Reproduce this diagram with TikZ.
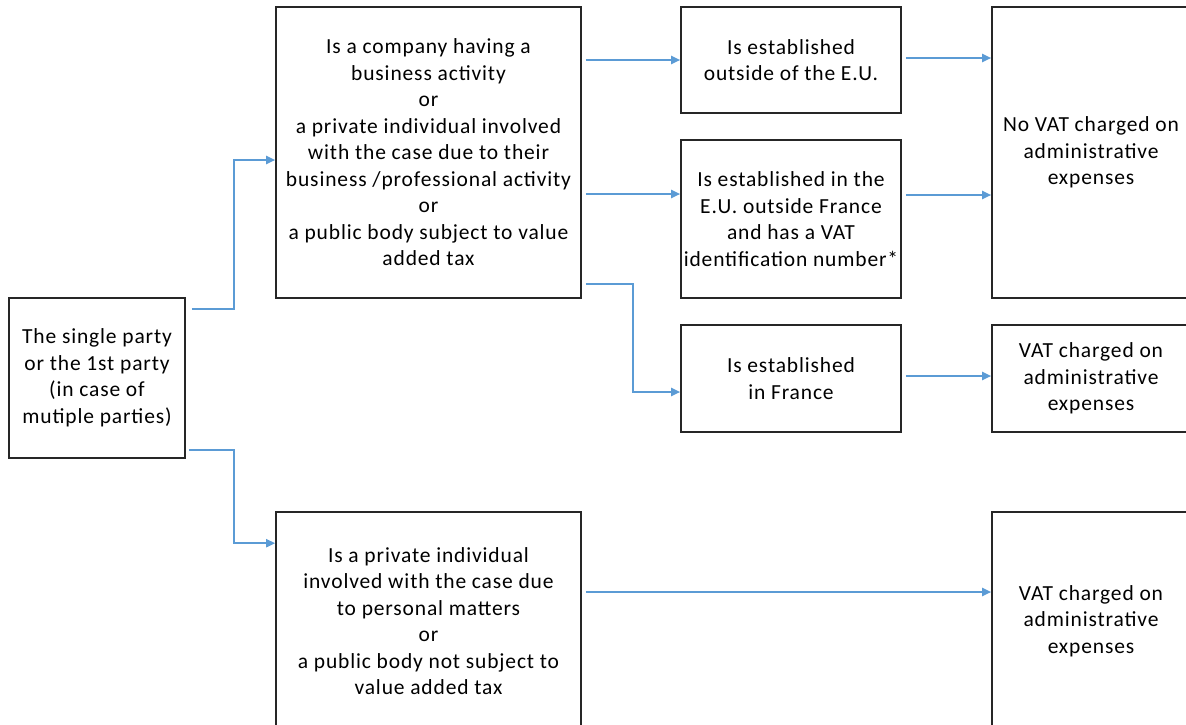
\documentclass[tikz,border=0pt]{standalone}
\usepackage{fontspec}
\setmainfont{Carlito}[LetterSpace=4]
\usetikzlibrary{calc,arrows.meta}
\definecolor{flowblue}{HTML}{5B9BD5}

\tikzset{
  box/.style={draw=black!85, line width=1.6pt, align=center, inner sep=0pt,
    font=\fontsize{21.5}{26.5}\selectfont},
  flow/.style={draw=flowblue, line width=1.9pt, -{Triangle[length=9pt,width=8pt]}}
}

\begin{document}
\begin{tikzpicture}[x=1pt,y=-1pt]
  \useasboundingbox (0,0) rectangle (1186,724);
  \clip (0,0) rectangle (1186,724);

  % parties
  \node [box, minimum width=176, minimum height=160] (party) at (97,378)
    {The single party\\or the 1st party\\(in case of\\mutiple parties)};
  \node [box, minimum width=305, minimum height=291] (company) at (428.5,152.5)
    {Is a company having a\\business activity\\or\\a private individual involved\\with the case due to their\\business /professional activity\\or\\a public body subject to value\\added tax};
  \node [box, minimum width=305, minimum height=218] (private) at (428.5,621)
    {Is a private individual\\involved with the case due\\to personal matters\\or\\a public body not subject to\\value added tax};

  % establishment
  \node [box, minimum width=220, minimum height=106] (outside) at (791,60)
    {Is established\\outside of the E.U.};
  \node [box, minimum width=220, minimum height=158] (eu) at (791,219)
    {Is established in the\\E.U. outside France\\and has a VAT\\identification number*};
  \node [box, minimum width=220, minimum height=107] (france) at (791,378.5)
    {Is established\\in France};

  % outcome
  \node [box, minimum width=198, minimum height=291] (novat) at (1091,152.5)
    {No VAT charged on\\administrative\\expenses};
  \node [box, minimum width=198, minimum height=107] (vat) at (1091,378.5)
    {VAT charged on\\administrative\\expenses};
  \node [box, minimum width=198, minimum height=218] (vatp) at (1091,621)
    {VAT charged on\\administrative\\expenses};

  % connectors
  \draw [flow] ([shift={(6,12)}]party.north east) -- ++(42,0) |- ($(company.west)+(0,7.5)$);
  \draw [flow] ([shift={(3,-9)}]party.south east) -- ++(45,0) |- ($(private.north west)+(0,32)$);
  \draw [flow] ([xshift=4pt]company.east |- outside.west) -- (outside.west);
  \draw [flow] ($(company.east |- eu.west)+(4,-25)$) -- ($(eu.west)+(0,-25)$);
  \draw [flow] ([shift={(4,-15)}]company.south east) -- ++(47,0) |- ($(france.west)+(0,13.5)$);
  \draw [flow] ([shift={(4,-2)}]outside.east) coordinate (s1) -- (s1 -| novat.west);
  \draw [flow] ($(eu.east)+(4,-24)$) coordinate (s2) -- (s2 -| novat.west);
  \draw [flow] ([shift={(4,-2.5)}]france.east) coordinate (s3) -- (s3 -| vat.west);
  \draw [flow] ($(private.east)+(4,-29)$) coordinate (s4) -- (s4 -| vatp.west);
\end{tikzpicture}
\end{document}
